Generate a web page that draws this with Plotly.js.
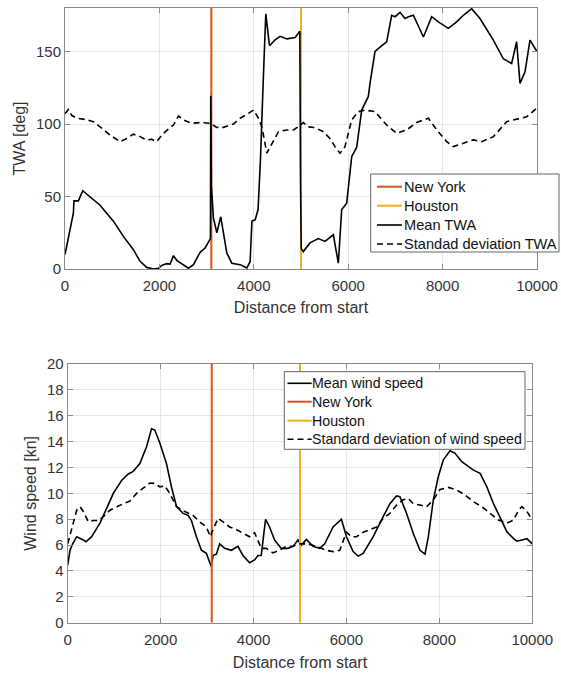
<!DOCTYPE html>
<html>
<head>
<meta charset="utf-8">
<script src="https://cdn.plot.ly/plotly-3.0.1.min.js"></script>
<style>
  html, body { margin: 0; padding: 0; background: #fff; }
  #chart { width: 561px; height: 673px; }
</style>
</head>
<body>
<div id="chart"></div>
<script>
// route positions (distance from start)
var newYorkX = 3100;
var houstonX = 5000;

// top panel: true wind angle
var twaMeanX = [0,177,190,283,375,530,636,742,883,1025,1237,1449,1590,1731,1873,1979,2050,2155,2226,2297,2367,2509,2615,2721,2862,2968,3060,3081,3088,3102,3145,3216,3300,3357,3428,3534,3710,3852,3922,3960,4030,4090,4140,4200,4254,4332,4450,4558,4700,4876,4975,4990,5005,5049,5190,5367,5508,5685,5791,5862,5968,6074,6180,6286,6427,6462,6568,6674,6815,6921,6992,7098,7204,7275,7381,7593,7769,7910,8122,8298,8439,8616,8792,9075,9287,9463,9569,9640,9746,9852,10000];
var twaMeanY = [10,38.5,47,47,54,50,46.6,44,38.5,33,22.5,13.3,5.3,1.1,0,0.5,2.5,3.7,3.4,9.2,6,3,0.5,3,11.5,14.5,20.6,21,119.5,57,35,25,36,25,11,4,3,0.7,5,33,34,41,75,130,176,154,158,160.5,158.7,159.6,164,60,14,12,18,21,19,23.6,4,41,45.4,77.5,84,109.6,119,128,150,153,156.7,175,174,177,172.7,174,175,160,174,170.4,166,170.4,175,179.5,172.7,157.8,145,141.7,156.7,128,136,157.8,150];

var twaStdX = [0,70,141,247,459,600,742,954,1166,1272,1449,1590,1731,1837,1943,2085,2297,2403,2509,2686,2862,3074,3216,3357,3569,3710,3887,3993,4099,4170,4276,4382,4523,4700,4841,4961,5049,5155,5296,5473,5614,5720,5826,5932,6074,6215,6357,6568,6815,7027,7239,7451,7699,7875,8087,8228,8439,8651,8828,9075,9358,9640,9781,10000];
var twaStdY = [107,110,106,104,103,101.6,98,92.4,87.8,89.4,93,91.3,89,89.4,87.8,93.6,99.3,105.5,102.8,100.5,101,100.5,97.7,97.7,100,104,107.3,109.6,104,98,80,86.7,94.7,95.9,95.9,98.6,101,98,97.5,94.7,90,84.4,79.8,84.4,102.8,108.5,109.6,108.5,99.3,93.6,95.9,101,104,96,87.8,84.4,86.7,89,87.8,91.3,101.6,104,105,111];

// bottom panel: wind speed
var windMeanX = [0,50,107,193,336,394,515,694,838,981,1160,1303,1410,1553,1697,1804,1875,1983,2126,2233,2341,2484,2591,2663,2770,2878,2985,3092,3128,3200,3271,3379,3522,3665,3772,3915,4023,4095,4166,4259,4345,4452,4595,4738,4849,4957,5029,5137,5281,5424,5532,5712,5892,6000,6144,6252,6360,6576,6791,6935,7079,7151,7295,7439,7583,7691,7763,7870,7978,8086,8230,8338,8482,8590,8734,8878,9022,9166,9310,9453,9597,9669,9777,9885,10000];
var windMeanY = [4.46,5.6,6.1,6.65,6.4,6.26,6.65,7.7,8.84,10,11,11.5,11.7,12.3,13.6,15,14.9,13.9,12.3,10.5,9,8.45,8.3,7.9,6.65,5.6,5.36,4.33,5.2,5.3,6.1,5.75,5.6,5.9,5.2,4.64,4.85,5.2,5.2,8,7.4,6.4,5.75,5.75,5.9,6.4,6,6.44,5.9,5.75,6.1,7.4,8,6.65,5.5,5.15,5.36,6.65,8.2,9.2,9.8,9.74,8.45,6.9,5.6,5.3,6.65,9.5,11.3,12.6,13.3,13.1,12.45,12.2,11.8,11.55,10.5,9.2,8.07,7.04,6.5,6.3,6.4,6.5,6.1];

var windStdX = [0,50,122,193,265,336,444,551,659,766,909,1052,1195,1339,1482,1625,1768,1875,1983,2090,2197,2341,2520,2699,2842,2985,3071,3128,3200,3236,3343,3486,3629,3772,3915,4023,4095,4166,4273,4416,4559,4702,4845,4968,5173,5353,5568,5712,5856,6000,6108,6216,6360,6504,6647,6791,6935,7079,7223,7331,7439,7583,7727,7870,8014,8194,8374,8554,8734,8914,9094,9273,9453,9597,9705,9777,9885,10000];
var windStdY = [6.1,6.8,7.9,8.7,8.97,8.6,7.8,7.9,7.9,8.2,8.7,8.97,9.2,9.4,10,10.4,10.8,10.77,10.5,10.57,10,8.97,8.6,8.3,7.8,7.4,6.65,7.2,7.7,8.07,7.8,7.4,7.2,6.9,6.65,6.96,6.4,5.75,5.75,5.4,5.6,5.9,5.9,6.1,6.1,5.9,5.6,5.5,5.6,7,6.65,6.65,7,7.2,7.4,8.07,8.45,9.1,9.5,9.6,9.2,9.1,8.97,9.5,10.3,10.46,10.26,9.87,9.36,8.97,8.45,7.94,7.7,7.94,8.7,8.97,8.6,7.94];

var twaRange = [0, 180];
var windRange = [0, 20];

// legend entries, in the order each panel lists them
var topNames = ['New York', 'Houston', 'Mean TWA', 'Standad deviation TWA'];
var bottomNames = ['Mean wind speed', 'New York', 'Houston', 'Standard deviation of wind speed'];

var nyColor = '#D95319';
var houColor = '#EDB120';
var font = 'Liberation Sans, Arial, sans-serif';
var dashed = '6px,4px';
var W = 561, H = 673;

var nyLine = {color:nyColor, width:2};
var houLine = {color:houColor, width:2};
var meanLine = {color:'#000', width:1.6};
var stdLine = {color:'#000', width:1.6, dash:dashed};

var traces = [
  // top
  {x:[newYorkX,newYorkX], y:twaRange, xaxis:'x', yaxis:'y', mode:'lines', name:topNames[0], line:nyLine},
  {x:[houstonX,houstonX], y:twaRange, xaxis:'x', yaxis:'y', mode:'lines', name:topNames[1], line:houLine},
  {x:twaMeanX, y:twaMeanY, xaxis:'x', yaxis:'y', mode:'lines', name:topNames[2], line:meanLine},
  {x:twaStdX, y:twaStdY, xaxis:'x', yaxis:'y', mode:'lines', name:topNames[3], line:stdLine},
  // bottom
  {x:windMeanX, y:windMeanY, xaxis:'x2', yaxis:'y2', mode:'lines', name:bottomNames[0], line:meanLine},
  {x:[newYorkX,newYorkX], y:windRange, xaxis:'x2', yaxis:'y2', mode:'lines', name:bottomNames[1], line:nyLine},
  {x:[houstonX,houstonX], y:windRange, xaxis:'x2', yaxis:'y2', mode:'lines', name:bottomNames[2], line:houLine},
  {x:windStdX, y:windStdY, xaxis:'x2', yaxis:'y2', mode:'lines', name:bottomNames[3], line:stdLine}
];

// MATLAB-style boxed legend drawn with shapes + annotations (pixel positions)
var shapes = [];
var annotations = [];
function boxLegend(box, rowsY, lineX0, lineX1, textX, names, styles, fsize) {
  shapes.push({type:'rect', xref:'paper', yref:'paper', layer:'above',
    x0:box[0]/W, x1:box[1]/W, y0:1-box[2]/H, y1:1-box[3]/H,
    fillcolor:'#fff', line:{color:'#666', width:1}});
  for (var i = 0; i < names.length; i++) {
    var yy = 1 - rowsY[i]/H;
    shapes.push({type:'line', xref:'paper', yref:'paper', layer:'above',
      x0:lineX0/W, x1:lineX1/W, y0:yy, y1:yy, line:styles[i]});
    annotations.push({xref:'paper', yref:'paper', x:textX/W, y:yy, xanchor:'left', yanchor:'middle',
      showarrow:false, text:names[i], borderpad:0,
      font:{family:font, size:fsize, color:'#111'}});
  }
}
boxLegend([370.7, 559, 174, 252], [186.7, 205.7, 225, 244], 377, 402, 402.5,
  topNames, [nyLine, houLine, meanLine, stdLine], 14.6);
boxLegend([284.3, 525, 371.7, 449.3], [383.3, 401.7, 420.7, 439.3], 287.5, 311.7, 311,
  bottomNames, [meanLine, nyLine, houLine, stdLine], 14.2);

var axisStyle = {
  showline: true, linecolor: '#8a8a8a', linewidth: 1, mirror: 'ticks',
  ticks: 'inside', ticklen: 5, tickcolor: '#8a8a8a',
  showgrid: true, gridcolor: '#e6e6e6', zeroline: false,
  tickfont: {family: font, size: 15, color: '#333'}
};

function ax(extra) { return Object.assign({}, axisStyle, extra); }

var titleFont = {family:font, size:16, color:'#333'};

var layout = {
  width: W, height: H,
  margin: {l:0, r:0, t:0, b:0},
  paper_bgcolor: '#fff', plot_bgcolor: '#fff',
  showlegend: false,
  xaxis: ax({domain:[0.1159, 0.9572], anchor:'y', range:[0,10000], dtick:2000, tickformat:'d',
    ticklabelstandoff:3, title:{text:'Distance from start', font:titleFont, standoff:8}}),
  yaxis: ax({domain:[0.6003, 0.9881], anchor:'x', range:twaRange, tickvals:[0,50,100,150],
    title:{text:'TWA [deg]', font:titleFont, standoff:6}}),
  xaxis2: ax({domain:[0.1207, 0.9488], anchor:'y2', range:[0,10000], dtick:2000, tickformat:'d',
    ticklabelstandoff:3, title:{text:'Distance from start', font:titleFont, standoff:10}}),
  yaxis2: ax({domain:[0.0747, 0.4591], anchor:'x2', range:windRange, dtick:2,
    title:{text:'Wind speed [kn]', font:titleFont, standoff:6}}),
  shapes: shapes,
  annotations: annotations
};

Plotly.newPlot('chart', traces, layout, {displayModeBar:false, staticPlot:true});
</script>
</body>
</html>
